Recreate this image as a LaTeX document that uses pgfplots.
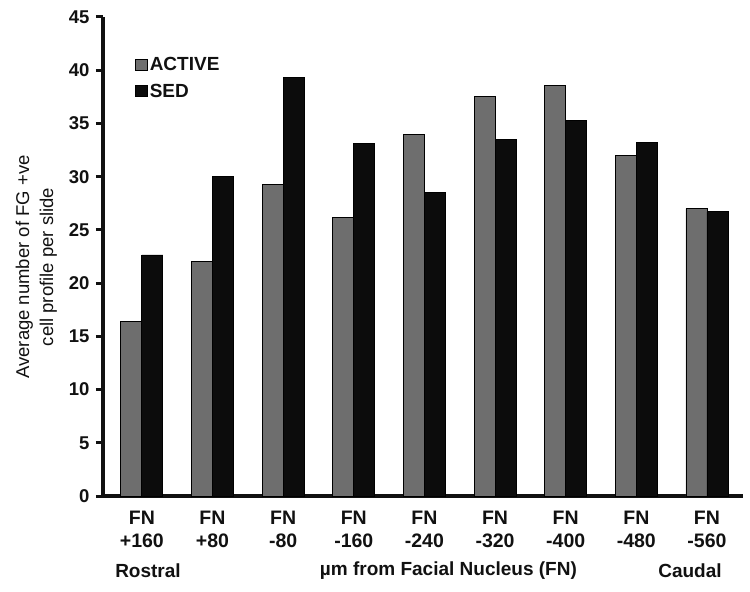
\documentclass[border=0pt]{standalone}
\usepackage{fontspec}
\setmainfont{Liberation Sans}
\usepackage{pgfplots}
\pgfplotsset{compat=1.18}
\definecolor{activegray}{HTML}{6E6E6E}
\definecolor{sedblack}{HTML}{0C0C0C}
\definecolor{txt}{HTML}{111111}

\begin{document}
\begin{tikzpicture}
\useasboundingbox (-103bp,-96bp) rectangle (647bp,496bp);
\begin{axis}[
    scale only axis,
    width=640bp, height=479bp,
    ybar=0pt, bar width=21bp,
    xmin=-0.55, xmax=8.51,
    ymin=0, ymax=45,
    xtick={0,1,...,8},
    xticklabels={{FN\\+160},{FN\\+80},{FN\\-80},{FN\\-160},{FN\\-240},{FN\\-320},{FN\\-400},{FN\\-480},{FN\\-560}},
    ytick={0,5,...,45},
    axis x line=bottom, axis y line=left,
    axis line style={line width=3.5bp, -, color=txt},
    x tick style={draw=none},
    y tick style={line width=3bp, color=txt},
    tick align=outside,
    major tick length=7bp,
    /pgf/number format/assume math mode=true,
    yticklabel style={font=\fontsize{18.5bp}{20bp}\selectfont\bfseries, text=txt, xshift=-3bp},
    xticklabel style={font=\fontsize{19.5bp}{23bp}\selectfont\bfseries, text=txt, align=center, yshift=-5bp},
    ylabel={Average number of FG +ve\\cell profile per slide},
    ylabel style={font=\fontsize{18.5bp}{24bp}\selectfont, text=txt, align=center,
        at={(axis description cs:-0.104,0.478)}, anchor=center, rotate=0},
    legend style={at={(axis description cs:0.045,0.925)}, anchor=north west,
        draw=none, fill=none, font=\fontsize{19bp}{22bp}\selectfont\bfseries, text=txt,
        row sep=8bp, /tikz/every even column/.append style={column sep=2bp}},
    legend image code/.code={\draw[#1, line width=0.8bp] (0bp,-5.5bp) rectangle (12bp,5.5bp);},
    legend cell align=left,
    clip=false,
]
\addplot[fill=activegray, draw=black, line width=0.8bp] coordinates {
    (0,16.4) (1,22.0) (2,29.3) (3,26.2) (4,34.0) (5,37.5) (6,38.6) (7,32.0) (8,27.0)
};
\addlegendentry{ACTIVE}
\addplot[fill=sedblack, draw=black, line width=0.8bp] coordinates {
    (0,22.65) (1,30.0) (2,39.3) (3,33.1) (4,28.5) (5,33.5) (6,35.3) (7,33.2) (8,26.7)
};
\addlegendentry{SED}
\node[font=\fontsize{19bp}{22bp}\selectfont\bfseries, text=txt] at (axis cs:0.087,0) [yshift=-75bp] {Rostral};
\node[font=\fontsize{19bp}{22bp}\selectfont\bfseries, text=txt] at (axis cs:4.34,0) [yshift=-75bp] {µm from Facial Nucleus (FN)};
\node[font=\fontsize{19bp}{22bp}\selectfont\bfseries, text=txt] at (axis cs:7.76,0) [yshift=-75bp] {Caudal};
\end{axis}
\end{tikzpicture}
\end{document}
